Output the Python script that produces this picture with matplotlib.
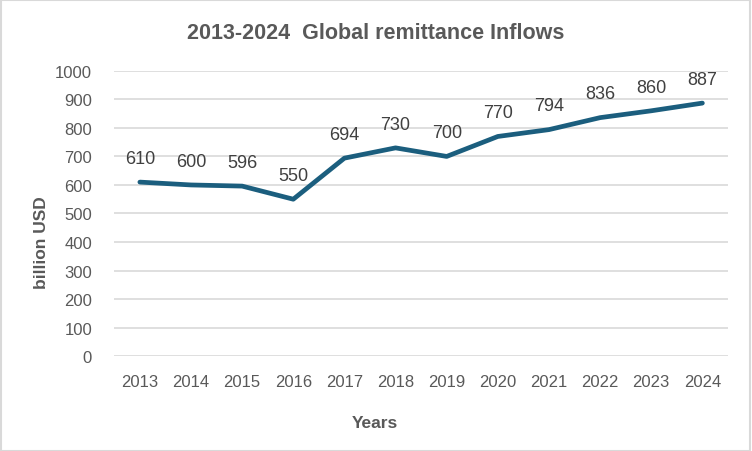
import matplotlib
matplotlib.use("Agg")
import matplotlib.pyplot as plt
from matplotlib.patches import Rectangle

years = ["2013", "2014", "2015", "2016", "2017", "2018",
         "2019", "2020", "2021", "2022", "2023", "2024"]
inflows = [610, 600, 596, 550, 694, 730, 700, 770, 794, 836, 860, 887]
y_ticks = [0, 100, 200, 300, 400, 500, 600, 700, 800, 900, 1000]

text_col = "#595959"
line_col = "#1B5E7E"

plt.rcParams["font.family"] = ["Liberation Sans", "DejaVu Sans"]

fig = plt.figure(figsize=(7.52, 4.52), dpi=100)
ax = fig.add_axes([0.152, 0.210, 0.816, 0.631])

x = list(range(len(years)))
ax.plot(x, inflows, color=line_col, linewidth=3.4, solid_capstyle="round",
        solid_joinstyle="round", zorder=3)
for xi, v in zip(x, inflows):
    ax.annotate(str(v), (xi, v), xytext=(0, 11), textcoords="offset points",
                ha="center", va="bottom", fontsize=13, color="#404040")

ax.set_xlim(-0.5, len(years) - 0.5)
ax.set_ylim(0, 1000)
ax.set_yticks(y_ticks)
ax.set_xticks(x)
ax.set_xticklabels(years)
ax.tick_params(length=0, labelsize=12, colors=text_col)
ax.tick_params(axis="x", pad=13)
ax.tick_params(axis="y", pad=16)
ax.grid(axis="y", color="#D9D9D9", linewidth=1.2)
ax.set_axisbelow(True)
for s in ax.spines.values():
    s.set_visible(False)

ax.set_ylabel("billion USD", fontsize=12.5, fontweight="bold", color=text_col)
ax.set_xlabel("Years", fontsize=12.5, fontweight="bold", color=text_col)
ax.yaxis.set_label_coords(-0.107, 0.40)
ax.xaxis.set_label_coords(0.425, -0.205)

fig.text(0.5, 0.925, "2013-2024  Global remittance Inflows", ha="center",
         va="center", fontsize=15.5, fontweight="bold", color=text_col)

fig.patches.append(Rectangle((0.001, 0.001), 0.997, 0.997, transform=fig.transFigure,
                             fill=False, edgecolor="#D9D9D9", linewidth=1.5))

fig.savefig("out.png", dpi=100)
